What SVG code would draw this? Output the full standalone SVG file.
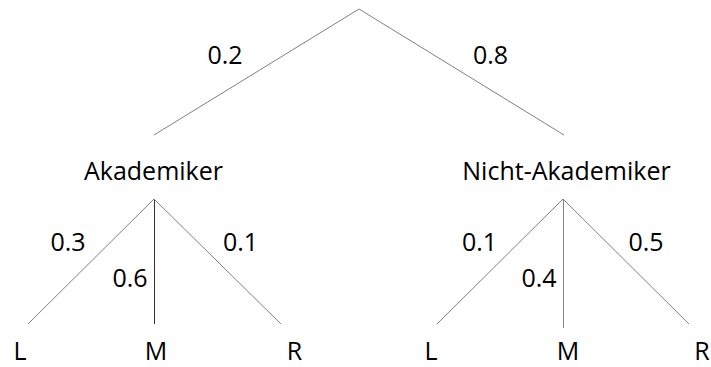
<svg xmlns="http://www.w3.org/2000/svg" width="711" height="367" viewBox="0 0 711 367">
<style>
text{font-family:"Open Sans","Noto Sans",sans-serif;font-size:25px;fill:#000;text-anchor:middle}
.e{stroke:#808080;stroke-width:1;fill:none}
.d{stroke:#333;stroke-width:1;fill:none}
</style>
<rect width="711" height="367" fill="#fff"/>
<g id="connectors">
<line class="e" x1="359" y1="9" x2="154" y2="135"/>
<line class="e" x1="359" y1="9" x2="564" y2="135"/>
<line class="e" x1="154" y1="199" x2="28" y2="324"/>
<line class="d" x1="154.5" y1="199" x2="154.5" y2="324"/>
<line class="e" x1="154" y1="199" x2="281" y2="324"/>
<line class="e" x1="563" y1="199" x2="437" y2="324"/>
<line class="e" x1="563.5" y1="199" x2="563.5" y2="328"/>
<line class="e" x1="563" y1="199" x2="689" y2="324"/>
<text x="225" y="64">0.2</text>
<text x="490.5" y="64">0.8</text>
<text x="68" y="251">0.3</text>
<text x="130" y="287">0.6</text>
<text x="240.5" y="251">0.1</text>
<text x="479.5" y="251">0.1</text>
<text x="539" y="287">0.4</text>
<text x="646" y="251">0.5</text>
</g>
<g id="root"></g>
<g id="akademiker"><text x="153.5" y="180">Akademiker</text></g>
<g id="nicht-akademiker"><text x="566.5" y="180">Nicht-Akademiker</text></g>
<g id="a-L"><text x="20" y="360">L</text></g>
<g id="a-M"><text x="156" y="360">M</text></g>
<g id="a-R"><text x="294.5" y="360">R</text></g>
<g id="n-L"><text x="431" y="360">L</text></g>
<g id="n-M"><text x="568" y="360">M</text></g>
<g id="n-R"><text x="702" y="360">R</text></g>
</svg>
